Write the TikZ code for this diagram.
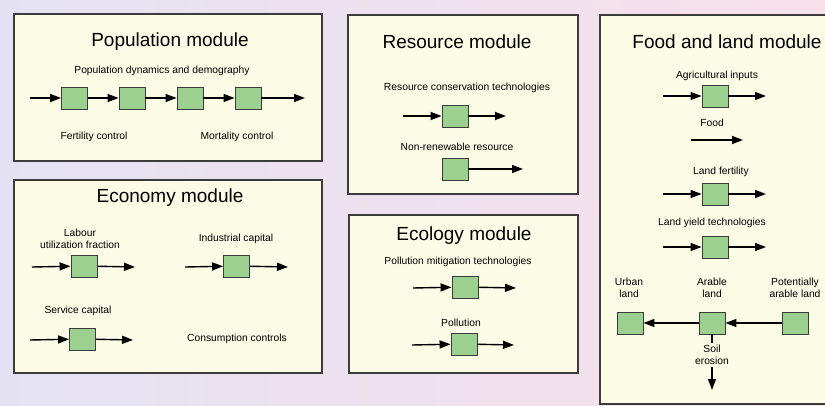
\documentclass[tikz,border=0pt]{standalone}
\usepackage{fontspec}
\setmainfont{Liberation Sans}
\usetikzlibrary{arrows.meta}
\definecolor{bgleft}{RGB}{228,226,242}
\definecolor{bgright}{RGB}{248,224,234}
\definecolor{modfill}{RGB}{251,251,230}
\definecolor{sqfill}{RGB}{155,208,143}
\definecolor{edgegray}{RGB}{60,60,60}

\begin{document}
\begin{tikzpicture}[x=1pt,y=-1pt,
  module/.style={draw=edgegray,line width=1.2pt,fill=modfill},
  sq/.style={draw=edgegray,fill=sqfill,line width=0.9pt,minimum width=26pt,minimum height=22pt,inner sep=0pt},
  ttl/.style={font=\fontsize{19}{22}\selectfont},
  lbl/.style={font=\fontsize{10.3}{12.5}\selectfont,align=center},
  flow/.style={-{Triangle[length=11pt,width=8pt]},line width=1.4pt}]

\shade[left color=bgleft,right color=bgright] (0,0) rectangle (825,406);
\useasboundingbox (0,0) rectangle (825,406);
\clip (0,0) rectangle (825,406);

% population module
\draw[module] (14,14) rectangle (322,161);
\node[ttl] (popT) at (170,42) {Population module};
\node[lbl] (popD) at (162,71) {Population dynamics and demography};
\foreach \i/\x in {1/74.5,2/132,3/190,4/248} \node[sq] (p\i) at (\x,98) {};
\coordinate (pIn) at (30,98);
\coordinate (pOut) at (305,98);
\foreach \a/\b in {pIn/p1,p1/p2,p2/p3,p3/p4,p4/pOut} \draw[flow] (\a) -- (\b);
\node[lbl] (fert) at (94,137) {Fertility control};
\node[lbl] (mort) at (237,137) {Mortality control};

% economy module
\draw[module] (14,180) rectangle (322,373);
\node[ttl] (ecoT) at (170,198) {Economy module};
\node[lbl] (labour) at (80,239) {Labour\\utilization fraction};
\node[sq] (e1) at (84,266) {};
\coordinate (e1In) at (32,267);
\coordinate (e1Out) at (135,267);
\node[lbl] (indus) at (236,239) {Industrial capital};
\node[sq] (e2) at (236.5,266) {};
\coordinate (e2In) at (185,267);
\coordinate (e2Out) at (288,267);
\node[lbl] (serv) at (78,311) {Service capital};
\node[sq] (e3) at (82.5,339) {};
\coordinate (e3In) at (30,340);
\coordinate (e3Out) at (133,340);
\node[lbl] (cons) at (237,339) {Consumption controls};
\foreach \n in {e1,e2,e3} {
  \draw[flow] (\n In) -- (\n);
  \draw[flow] (\n) -- (\n Out);
}

% resource module
\draw[module] (348,15) rectangle (578,194);
\node[ttl] (resT) at (457,42) {Resource module};
\node[lbl] (rescons) at (467,88) {Resource conservation technologies};
\node[sq] (r1) at (455,116) {};
\coordinate (r1In) at (403,116);
\coordinate (r1Out) at (506,116);
\draw[flow] (r1In) -- (r1);
\draw[flow] (r1) -- (r1Out);
\node[lbl] (nonren) at (457,147) {Non-renewable resource};
\node[sq] (r2) at (455,169) {};
\coordinate (r2Out) at (523,169);
\draw[flow] (r2) -- (r2Out);

% ecology module
\draw[module] (349,215) rectangle (578,373);
\node[ttl] (ecolT) at (464,236) {Ecology module};
\node[lbl] (pollmit) at (458,262) {Pollution mitigation technologies};
\node[sq] (c1) at (465,287) {};
\coordinate (c1In) at (413,288);
\coordinate (c1Out) at (516,288);
\node[lbl] (poll) at (461,323) {Pollution};
\node[sq] (c2) at (464,344) {};
\coordinate (c2In) at (412,345);
\coordinate (c2Out) at (514,345);
\foreach \n in {c1,c2} {
  \draw[flow] (\n In) -- (\n);
  \draw[flow] (\n) -- (\n Out);
}

% food and land module
\draw[module] (600,15) rectangle (840,404);
\node[ttl] (foodT) at (727,42) {Food and land module};
\node[lbl] (agri) at (717,76) {Agricultural inputs};
\node[sq] (f1) at (715,96) {};
\node[lbl] (food) at (712,123) {Food};
\coordinate (foodIn) at (691,140);
\coordinate (foodOut) at (743,140);
\draw[flow] (foodIn) -- (foodOut);
\node[lbl] (fertil) at (721,172) {Land fertility};
\node[sq] (f2) at (715,194) {};
\node[lbl] (yield) at (712,223) {Land yield technologies};
\node[sq] (f3) at (715,247) {};
\foreach \n/\y in {f1/96,f2/194,f3/247} {
  \draw[flow] (663,\y) coordinate (\n In) -- (\n);
  \draw[flow] (\n) -- (766,\y) coordinate (\n Out);
}
\node[lbl] (urbanL) at (629,288) {Urban\\land};
\node[lbl] (arableL) at (712,288) {Arable\\land};
\node[lbl] (potL) at (795,288) {Potentially\\arable land};
\node[sq] (urban) at (630,323) {};
\node[sq] (arable) at (712,323) {};
\node[sq] (pot) at (795.5,323) {};
\draw[flow] (pot) -- (arable);
\draw[flow] (arable) -- (urban);
\node[lbl,inner sep=2pt] (soil) at (712,355) {Soil\\erosion};
\coordinate (soilOut) at (712,390);
\draw[line width=1.4pt] (arable) -- (soil);
\draw[flow] (soil) -- (soilOut);

\end{tikzpicture}
\end{document}
